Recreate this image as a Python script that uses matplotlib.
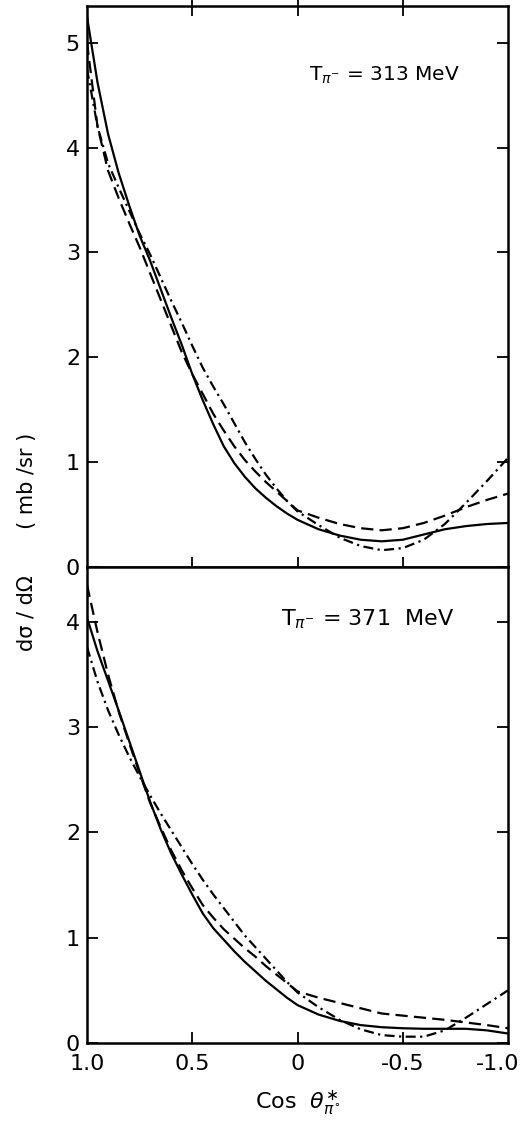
import matplotlib
matplotlib.use("Agg")
import matplotlib.pyplot as plt
from matplotlib.ticker import FixedLocator
from matplotlib.transforms import ScaledTranslation

plt.rcParams['font.family'] = ['DejaVu Sans']
plt.rcParams['mathtext.fontset'] = 'dejavusans'

# ---------------- data ----------------
cos_x = [1.00, 0.95, 0.90, 0.85, 0.80, 0.75, 0.70, 0.65, 0.60, 0.55, 0.50,
         0.45, 0.40, 0.35, 0.30, 0.25, 0.20, 0.15, 0.10, 0.05, 0.00,
         -0.10, -0.20, -0.30, -0.40, -0.50, -0.60, -0.70, -0.80, -0.90, -1.00]

# T = 313 MeV
top_solid = [5.25, 4.62, 4.13, 3.76, 3.45, 3.16, 2.92, 2.65, 2.38, 2.12, 1.84,
             1.59, 1.36, 1.15, 0.99, 0.86, 0.75, 0.66, 0.58, 0.51, 0.45,
             0.36, 0.30, 0.26, 0.245, 0.26, 0.31, 0.36, 0.39, 0.41, 0.42]
top_dashed = [5.00, 4.20, 3.78, 3.52, 3.28, 3.05, 2.80, 2.55, 2.30, 2.05, 1.84,
              1.65, 1.46, 1.30, 1.15, 1.02, 0.91, 0.81, 0.72, 0.63, 0.54,
              0.47, 0.41, 0.37, 0.35, 0.37, 0.42, 0.49, 0.57, 0.64, 0.70]
top_dashdot = [4.75, 4.20, 3.85, 3.62, 3.40, 3.18, 2.98, 2.76, 2.54, 2.33, 2.11,
               1.90, 1.72, 1.55, 1.37, 1.19, 1.03, 0.88, 0.75, 0.63, 0.53,
               0.40, 0.28, 0.20, 0.16, 0.18, 0.26, 0.41, 0.61, 0.82, 1.04]

# T = 371 MeV
bot_solid = [4.04, 3.72, 3.44, 3.16, 2.87, 2.58, 2.29, 2.03, 1.80, 1.60, 1.41,
             1.23, 1.09, 0.98, 0.87, 0.77, 0.68, 0.59, 0.51, 0.43, 0.36,
             0.27, 0.21, 0.17, 0.15, 0.14, 0.135, 0.135, 0.135, 0.12, 0.09]
bot_dashed = [4.35, 3.90, 3.50, 3.15, 2.85, 2.56, 2.28, 2.05, 1.83, 1.64, 1.47,
              1.31, 1.19, 1.08, 0.99, 0.90, 0.82, 0.73, 0.65, 0.57, 0.49,
              0.43, 0.38, 0.33, 0.28, 0.26, 0.24, 0.22, 0.195, 0.17, 0.14]
bot_dashdot = [3.76, 3.43, 3.16, 2.93, 2.72, 2.53, 2.35, 2.18, 2.02, 1.86, 1.70,
               1.55, 1.41, 1.28, 1.15, 1.02, 0.91, 0.80, 0.69, 0.58, 0.48,
               0.34, 0.22, 0.13, 0.075, 0.06, 0.06, 0.12, 0.24, 0.37, 0.50]

energy_labels = [r"T$_{\pi^{-}}$ = 313 MeV", r"T$_{\pi^{-}}$ = 371  MeV"]
x_ticks = [1.0, 0.5, 0.0, -0.5, -1.0]
x_ticklabels = ["1.0", "0.5", "0", "-0.5", "-1.0"]
top_yticks = [0, 1, 2, 3, 4, 5]
bot_yticks = [0, 1, 2, 3, 4]

# ---------------- figure ----------------
W, H = 520, 1128
fig = plt.figure(figsize=(W / 100, H / 100), dpi=100)
L, R = 87, 508
ax_top = fig.add_axes([L / W, 1 - 567 / H, (R - L) / W, (567 - 6) / H])
ax_bot = fig.add_axes([L / W, 1 - 1043 / H, (R - L) / W, (1043 - 567) / H])

lw = 1.6
styles = dict(
    solid=dict(linestyle='-', lw=lw),
    dashed=dict(linestyle=(0, (5.5, 2.8)), lw=lw),
    dashdot=dict(linestyle=(0, (4.5, 2.0, 1.0, 2.0)), lw=lw),
)

for ax, s, d, dd, ymax, yt in [
        (ax_top, top_solid, top_dashed, top_dashdot, 5.35, top_yticks),
        (ax_bot, bot_solid, bot_dashed, bot_dashdot, 4.52, bot_yticks)]:
    ax.plot(cos_x, s, color='black', **styles['solid'])
    ax.plot(cos_x, d, color='black', **styles['dashed'])
    ax.plot(cos_x, dd, color='black', **styles['dashdot'])
    ax.set_xlim(1.0, -1.0)
    ax.set_ylim(0, ymax)
    ax.yaxis.set_major_locator(FixedLocator(yt))
    ax.set_yticklabels([str(v) for v in yt])
    for sp in ax.spines.values():
        sp.set_linewidth(1.8)
    ax.tick_params(axis='y', which='major', direction='in', length=8, width=1.3,
                   right=True, labelsize=16, pad=5)

# x ticks
ax_top.set_xticks([0.5, 0.0, -0.5])
ax_top.tick_params(axis='x', direction='inout', length=14, width=1.3,
                   top=True, bottom=True, labelbottom=False)
ax_bot.set_xticks(x_ticks)
ax_bot.set_xticklabels(x_ticklabels)
ax_bot.tick_params(axis='x', direction='in', length=8, width=1.3,
                   labelsize=16, pad=8)
for t in ax_bot.xaxis.get_major_ticks():
    if abs(t.get_loc()) == 1.0:
        t.tick1line.set_visible(False)
last = ax_bot.get_xticklabels()[-1]
last.set_transform(last.get_transform() + ScaledTranslation(-10 / 100, 0, fig.dpi_scale_trans))

# energy annotations
ax_top.text(-0.41, 4.69, energy_labels[0], fontsize=14.5, va='center', ha='center')
ax_bot.text(0.08, 4.02, energy_labels[1], fontsize=16, va='center', ha='left')

# axis labels
ax_bot.set_xlabel(r"Cos  $\theta^{\ast}_{\pi^{\circ}}$", fontsize=16, labelpad=10)
fig.text(27 / W, 1 - 542 / H, "d\u03c3 / d\u03a9       ( mb /sr )", rotation=90,
         fontsize=15, va='center', ha='center')

fig.savefig("out.png", dpi=100)
